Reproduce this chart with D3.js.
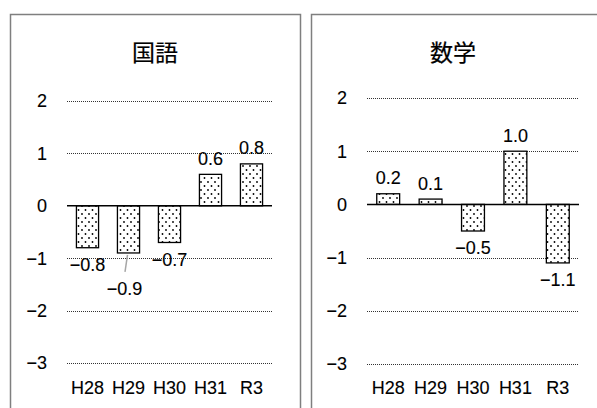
<!DOCTYPE html>
<html>
<head>
<meta charset="utf-8">
<script src="https://cdn.jsdelivr.net/npm/d3@7"></script>
<style>
  html, body { margin: 0; padding: 0; background: #fff; }
  svg { display: block; }
</style>
</head>
<body>
<svg id="chart" width="597" height="408"></svg>
<script>
// Fiscal years shown on both panels
const years = ["H28", "H29", "H30", "H31", "R3"];
// Difference from the national average, per subject
const kokugo = [-0.8, -0.9, -0.7, 0.6, 0.8];
const sugaku = [0.2, 0.1, -0.5, 1.0, -1.1];
// Value axis ticks
const yTicks = [2, 1, 0, -1, -2, -3];

const panels = [
  { title: "国語", values: kokugo, box: [10.5, 14.5, 290, 400], titleX: 155, x: [67, 272], y: [363, 101], tickRight: 47 },
  { title: "数学", values: sugaku, box: [311.5, 14.5, 300, 400], titleX: 453, x: [367, 579], y: [364, 98], tickRight: 347 }
];

const svg = d3.select("#chart");
const numFont = "'Liberation Sans', Arial, sans-serif";
const fmt = v => (v < 0 ? "\u2212" : "") + Math.abs(v).toFixed(1);
const tickFmt = v => (v < 0 ? "\u2212" : "") + Math.abs(v);

// Dotted fill used by every bar
const defs = svg.append("defs");
const pat = defs.append("pattern")
  .attr("id", "dots").attr("patternUnits", "userSpaceOnUse")
  .attr("width", 7).attr("height", 8);
pat.append("rect").attr("width", 7).attr("height", 8).attr("fill", "#fff");
[[1.5, 2], [5, 6]].forEach(([cx, cy]) =>
  pat.append("circle").attr("cx", cx).attr("cy", cy).attr("r", 0.9).attr("fill", "#000"));

// Numeric text style
function numText(sel, size) {
  return sel.attr("font-family", numFont).attr("font-size", size).attr("fill", "#000")
    .attr("stroke", "#000").attr("stroke-width", 0.12);
}

panels.forEach(p => {
  const g = svg.append("g");
  const [bx, by, bw, bh] = p.box;
  g.append("rect").attr("x", bx).attr("y", by).attr("width", bw).attr("height", bh)
    .attr("fill", "#fff").attr("stroke", "#7f7f7f").attr("stroke-width", 1.5);

  const x = d3.scaleBand().domain(years).range(p.x).padding(0);
  const y = d3.scaleLinear().domain([-3, 2]).range(p.y);
  const barW = x.bandwidth() * 0.54;

  // Title
  g.append("text").attr("x", p.titleX).attr("y", 53)
    .attr("dy", "0.36em").attr("text-anchor", "middle")
    .attr("font-family", "'Noto Sans CJK JP', sans-serif").attr("font-size", 23)
    .attr("fill", "#000").attr("stroke", "#000").attr("stroke-width", 0.2).text(p.title);

  // Dotted grid lines
  g.selectAll(".grid").data(yTicks.filter(t => t !== 0)).join("line")
    .attr("x1", p.x[0]).attr("x2", p.x[1])
    .attr("y1", d => Math.round(y(d)) + 0.5).attr("y2", d => Math.round(y(d)) + 0.5)
    .attr("stroke", "#333").attr("stroke-width", 1).attr("stroke-dasharray", "1,1");

  // Tick labels on the value axis
  numText(g.selectAll(".tick").data(yTicks).join("text"), 18)
    .attr("x", p.tickRight).attr("y", d => y(d)).attr("dy", "0.36em")
    .attr("text-anchor", "end").text(tickFmt);

  // Bars
  g.selectAll(".bar").data(p.values).join("rect")
    .attr("x", (d, i) => x(years[i]) + (x.bandwidth() - barW) / 2)
    .attr("width", barW)
    .attr("y", d => y(Math.max(0, d)))
    .attr("height", d => Math.abs(y(d) - y(0)))
    .attr("fill", "url(#dots)").attr("stroke", "#000").attr("stroke-width", 1.3);

  // Zero line
  g.append("line").attr("x1", p.x[0]).attr("x2", p.x[1])
    .attr("y1", y(0)).attr("y2", y(0)).attr("stroke", "#000").attr("stroke-width", 1.5);

  // Category labels
  numText(g.selectAll(".cat").data(years).join("text"), 18)
    .attr("x", d => x(d) + x.bandwidth() / 2).attr("y", 388).attr("dy", "0.36em")
    .attr("text-anchor", "middle").text(d => d);

  // Value labels
  p.values.forEach((v, i) => {
    const cx = x(years[i]) + x.bandwidth() / 2;
    const end = y(v);
    let ly = v >= 0 ? end - 16 : end + 17;
    let lx = cx;
    // The H29 label of 国語 is pulled down with a leader line to avoid overlap
    if (p.title === "国語" && years[i] === "H29") {
      ly = end + 36;
      lx = cx - 4;
      g.append("line").attr("x1", cx - 1).attr("y1", end + 2)
        .attr("x2", cx - 3.5).attr("y2", end + 19)
        .attr("stroke", "#a6a6a6").attr("stroke-width", 1.5);
    }
    numText(g.append("text"), 18).attr("x", lx).attr("y", ly).attr("dy", "0.36em")
      .attr("text-anchor", "middle").text(fmt(v));
  });
});
</script>
</body>
</html>
